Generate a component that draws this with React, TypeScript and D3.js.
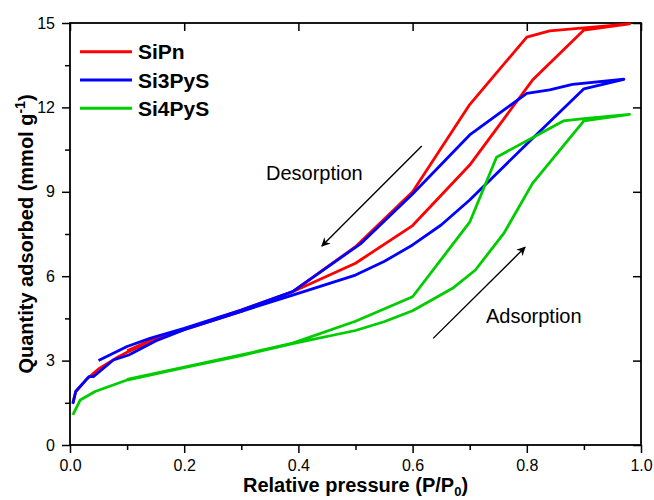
import { useRef, useEffect } from "react";
import * as d3 from "d3";

// SiPn
const siPnAdsP = [0.005, 0.01, 0.03, 0.05, 0.08, 0.1, 0.15, 0.2, 0.3, 0.39, 0.5, 0.6, 0.7, 0.81, 0.9, 0.98];
const siPnAdsQ = [1.5, 1.9, 2.35, 2.7, 3.08, 3.3, 3.75, 4.1, 4.75, 5.45, 6.46, 7.8, 9.95, 12.97, 14.75, 14.97];
const siPnDesP = [0.98, 0.84, 0.8, 0.7, 0.6, 0.5, 0.39, 0.3, 0.2, 0.15, 0.1];
const siPnDesQ = [14.97, 14.72, 14.5, 12.1, 9.0, 7.05, 5.45, 4.8, 4.12, 3.8, 3.35];

// Si3PyS
const si3AdsP = [0.005, 0.01, 0.033, 0.041, 0.076, 0.103, 0.15, 0.2, 0.3, 0.39, 0.5, 0.55, 0.6, 0.65, 0.7, 0.8, 0.9, 0.97];
const si3AdsQ = [1.46, 1.9, 2.43, 2.43, 3.02, 3.2, 3.7, 4.1, 4.75, 5.33, 6.04, 6.52, 7.11, 7.82, 8.71, 10.7, 12.66, 13.0];
const si3DesP = [0.97, 0.88, 0.84, 0.8, 0.7, 0.6, 0.51, 0.39, 0.3, 0.2, 0.14, 0.1, 0.05];
const si3DesQ = [13.0, 12.82, 12.62, 12.5, 11.02, 8.92, 7.17, 5.45, 4.8, 4.15, 3.79, 3.5, 3.0];

// Si4PyS
const si4AdsP = [0.005, 0.018, 0.044, 0.1, 0.2, 0.3, 0.39, 0.5, 0.55, 0.6, 0.67, 0.71, 0.76, 0.81, 0.887, 0.9, 0.98];
const si4AdsQ = [1.07, 1.6, 1.9, 2.31, 2.75, 3.18, 3.6, 4.07, 4.38, 4.77, 5.57, 6.22, 7.53, 9.3, 11.2, 11.52, 11.75];
const si4DesP = [0.98, 0.9, 0.864, 0.747, 0.7, 0.6, 0.5, 0.39, 0.3, 0.2, 0.1];
const si4DesQ = [11.75, 11.6, 11.52, 10.23, 7.92, 5.27, 4.4, 3.62, 3.2, 2.77, 2.33];

const seriesNames = ["SiPn", "Si3PyS", "Si4PyS"];
const seriesColors = ["#ff0000", "#0000ff", "#00cc00"];

const xMajor = [0, 0.2, 0.4, 0.6, 0.8, 1.0];
const xMinor = [0.1, 0.3, 0.5, 0.7, 0.9];
const yMajor = [0, 3, 6, 9, 12, 15];
const yMinor = [1.5, 4.5, 7.5, 10.5, 13.5];

// annotation arrows in data units: [x1, y1, x2, y2]
const desArrow = [0.616, 10.63, 0.441, 7.07];
const adsArrow = [0.636, 3.79, 0.797, 7.03];

const font = "Arial, 'Liberation Sans', sans-serif";

const App = () => {
    const svgRef = useRef<SVGSVGElement>(null);

    useEffect(() => {
        if (!svgRef.current) return;
        const svg = d3.select(svgRef.current);
        svg.selectAll("*").remove();

        const left = 70, right = 641, top = 23, bottom = 445;
        const x = d3.scaleLinear().domain([0, 1]).range([left, right]);
        const y = d3.scaleLinear().domain([0, 15]).range([bottom, top]);

        const defs = svg.append("defs");
        defs.append("marker")
            .attr("id", "arrowhead")
            .attr("viewBox", "0 0 10 10")
            .attr("refX", 9)
            .attr("refY", 5)
            .attr("markerWidth", 10)
            .attr("markerHeight", 9)
            .attr("markerUnits", "userSpaceOnUse")
            .attr("orient", "auto")
            .append("path")
            .attr("d", "M0,0 L10,5 L0,10 L3,5 Z")
            .attr("fill", "#000");

        // axes
        const fmt = d3.format(".1f");
        const bottomAxis = d3.axisBottom(x).tickValues(xMajor).tickFormat((d) => fmt(d as number)).tickSize(8).tickPadding(7);
        const gb = svg.append("g").attr("transform", `translate(0,${bottom})`).call(bottomAxis);
        gb.append("g").call(d3.axisBottom(x).tickValues(xMinor).tickFormat(() => "").tickSize(5));

        const leftAxis = d3.axisLeft(y).tickValues(yMajor).tickFormat((d) => String(d)).tickSize(8).tickPadding(7);
        const gl = svg.append("g").attr("transform", `translate(${left},0)`).call(leftAxis);
        gl.append("g").call(d3.axisLeft(y).tickValues(yMinor).tickFormat(() => "").tickSize(5));

        svg.append("g").attr("transform", `translate(0,${top})`)
            .call(d3.axisTop(x).tickValues(xMajor).tickFormat(() => "").tickSize(-8));
        svg.append("g").attr("transform", `translate(${right},0)`)
            .call(d3.axisRight(y).tickValues(yMajor).tickFormat(() => "").tickSize(-8));

        svg.selectAll(".domain").remove();
        svg.selectAll(".tick line").attr("stroke", "#000").attr("stroke-width", 1.5);
        svg.selectAll(".tick text").attr("font-family", font).attr("font-size", 16).attr("fill", "#000");

        svg.append("rect")
            .attr("x", left).attr("y", top)
            .attr("width", right - left).attr("height", bottom - top)
            .attr("fill", "none").attr("stroke", "#000").attr("stroke-width", 1.8);

        // isotherms: adsorption branch then desorption branch
        const curves = [
            [siPnAdsP, siPnAdsQ, siPnDesP, siPnDesQ],
            [si3AdsP, si3AdsQ, si3DesP, si3DesQ],
            [si4AdsP, si4AdsQ, si4DesP, si4DesQ],
        ];
        const line = d3.line<[number, number]>().x((d) => x(d[0])).y((d) => y(d[1]));
        curves.forEach((c, i) => {
            const pts: [number, number][] = [
                ...c[0].map((p, j) => [p, c[1][j]] as [number, number]),
                ...c[2].map((p, j) => [p, c[3][j]] as [number, number]),
            ];
            svg.append("path")
                .attr("d", line(pts))
                .attr("fill", "none")
                .attr("stroke", seriesColors[i])
                .attr("stroke-width", 2.8)
                .attr("stroke-linejoin", "round");
        });

        // arrows + labels
        [desArrow, adsArrow].forEach((a) => {
            svg.append("line")
                .attr("x1", x(a[0])).attr("y1", y(a[1]))
                .attr("x2", x(a[2])).attr("y2", y(a[3]))
                .attr("stroke", "#000").attr("stroke-width", 1.4)
                .attr("marker-end", "url(#arrowhead)");
        });
        svg.append("text").attr("x", 266).attr("y", 180)
            .attr("font-family", font).attr("font-size", 20).text("Desorption");
        svg.append("text").attr("x", 486).attr("y", 323)
            .attr("font-family", font).attr("font-size", 20).text("Adsorption");

        // legend
        const lg = svg.append("g");
        seriesNames.forEach((name, i) => {
            const ly = 51.7 + i * 28.3;
            lg.append("line").attr("x1", 80).attr("x2", 132).attr("y1", ly).attr("y2", ly)
                .attr("stroke", seriesColors[i]).attr("stroke-width", 3);
            lg.append("text").attr("x", 138).attr("y", ly + 7.5)
                .attr("font-family", font).attr("font-size", 21).attr("font-weight", "bold").text(name);
        });

        // axis titles
        const xt = svg.append("text").attr("x", (left + right) / 2).attr("y", 492)
            .attr("text-anchor", "middle").attr("font-family", font)
            .attr("font-size", 20).attr("font-weight", "bold");
        xt.append("tspan").text("Relative pressure (P/P");
        xt.append("tspan").attr("font-size", 13).attr("dy", 4).text("0");
        xt.append("tspan").attr("dy", -4).text(")");

        const yt = svg.append("text")
            .attr("transform", `translate(33,${(top + bottom) / 2}) rotate(-90)`)
            .attr("text-anchor", "middle").attr("font-family", font)
            .attr("font-size", 20).attr("font-weight", "bold");
        yt.append("tspan").text("Quantity adsorbed (mmol g");
        yt.append("tspan").attr("font-size", 14).attr("dy", -8).text("-1");
        yt.append("tspan").attr("dy", 8).text(")");

        svg.attr("width", 654).attr("height", 500);
    }, []);

    return (
        <svg
            ref={svgRef}
            style={{ position: "absolute", left: 0, top: 0, background: "#fff" }}
        />
    );
};

export default App;
